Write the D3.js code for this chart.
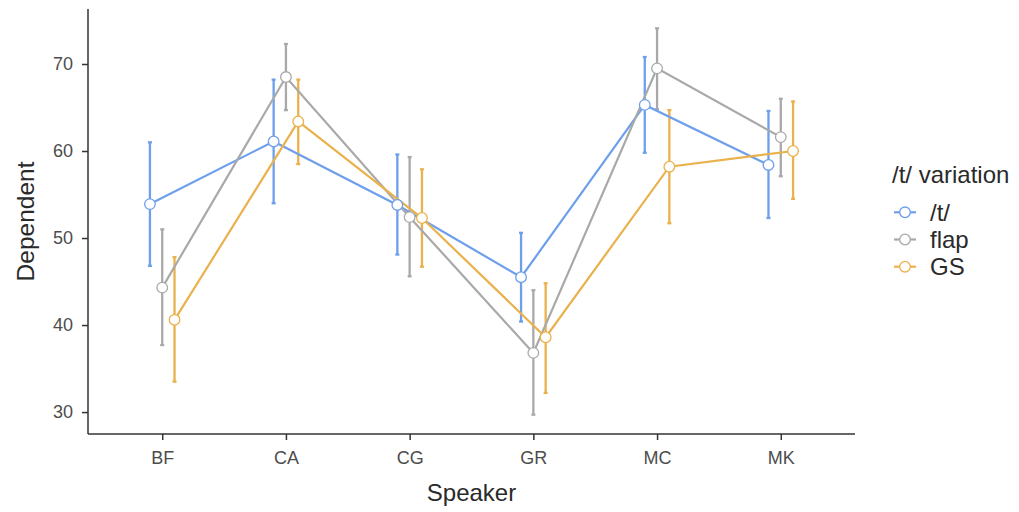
<!DOCTYPE html>
<html>
<head>
<meta charset="utf-8">
<script src="https://cdn.jsdelivr.net/npm/d3@7"></script>
<style>
  html, body { margin: 0; padding: 0; background: #fff; }
  svg { display: block; }
  text { font-family: "Liberation Sans", Arial, Helvetica, sans-serif; }
</style>
</head>
<body>
<svg id="chart" width="1019" height="512"></svg>
<script>
const speakers = ["BF", "CA", "CG", "GR", "MC", "MK"];
const variations = ["/t/", "flap", "GS"];
const colors = ["#6E9FEB", "#A9A9A9", "#EAB14C"];
const yTicks = [30, 40, 50, 60, 70];

// means per variation, in speaker order
const meanT    = [53.9, 61.1, 53.8, 45.5, 65.3, 58.4];
const meanFlap = [44.3, 68.5, 52.4, 36.8, 69.5, 61.6];
const meanGS   = [40.6, 63.4, 52.3, 38.6, 58.2, 60.0];
// lower / upper error bar ends
const lowT     = [46.8, 54.0, 48.1, 40.4, 59.8, 52.3];
const highT    = [61.0, 68.2, 59.6, 50.6, 70.8, 64.6];
const lowFlap  = [37.7, 64.7, 45.6, 29.7, 64.8, 57.1];
const highFlap = [51.0, 72.3, 59.3, 44.0, 74.1, 66.0];
const lowGS    = [33.5, 58.5, 46.7, 32.2, 51.7, 54.5];
const highGS   = [47.8, 68.2, 57.9, 44.8, 64.7, 65.7];

const seriesMeans = [meanT, meanFlap, meanGS];
const seriesLow = [lowT, lowFlap, lowGS];
const seriesHigh = [highT, highFlap, highGS];

const svg = d3.select("#chart");
const L = 88, R = 855, T = 9, B = 434;

const x = d3.scalePoint().domain(speakers).range([L, R]).padding(0.6);
const dodge = d3.scalePoint().domain(variations).range([-12.3, 12.3]);

// y domain with ggplot-like 5% expansion from data extents
const allLow = d3.min(seriesLow.flat()), allHigh = d3.max(seriesHigh.flat());
const pad = (allHigh - allLow) * 0.05;
const y = d3.scaleLinear().domain([allLow - pad, allHigh + pad]).range([B, T]);

const data = variations.map((v, i) => ({
  name: v, color: colors[i],
  pts: speakers.map((s, j) => ({ s, m: seriesMeans[i][j], lo: seriesLow[i][j], hi: seriesHigh[i][j] }))
}));
const px = (v, s) => x(s) + dodge(v);

// axes
const yAxis = d3.axisLeft(y).tickValues(yTicks).tickSize(6).tickPadding(9);
const gy = svg.append("g").attr("transform", `translate(${L},0)`).call(yAxis);
const xAxis = d3.axisBottom(x).tickSize(6).tickPadding(11);
const gx = svg.append("g").attr("transform", `translate(0,${B})`).call(xAxis);
[gy, gx].forEach(g => {
  g.select(".domain").attr("stroke", "#333").attr("stroke-width", 1.5);
  g.selectAll(".tick line").attr("stroke", "#333").attr("stroke-width", 1.5);
  g.selectAll(".tick text").attr("fill", "#4D4D4D").style("font-size", "18px")
    .style("font-family", '"Liberation Sans", Arial, sans-serif');
});
gy.select(".domain").attr("d", `M0,${T}V${B}`);
gx.select(".domain").attr("d", `M${L},0H${R}`);

// series
data.forEach(d => {
  const g = svg.append("g");
  // error bars
  g.selectAll("line.eb").data(d.pts).join("line")
    .attr("x1", p => px(d.name, p.s)).attr("x2", p => px(d.name, p.s))
    .attr("y1", p => y(p.lo)).attr("y2", p => y(p.hi))
    .attr("stroke", d.color).attr("stroke-width", 2.3);
  ["lo", "hi"].forEach(k => {
    g.selectAll("line.cap" + k).data(d.pts).join("line")
      .attr("x1", p => px(d.name, p.s) - 2).attr("x2", p => px(d.name, p.s) + 2)
      .attr("y1", p => y(p[k])).attr("y2", p => y(p[k]))
      .attr("stroke", d.color).attr("stroke-width", 2.3);
  });
});
data.forEach(d => {
  svg.append("path").datum(d.pts)
    .attr("d", d3.line().x(p => px(d.name, p.s)).y(p => y(p.m)))
    .attr("fill", "none").attr("stroke", d.color).attr("stroke-width", 2.2);
});
data.forEach(d => {
  svg.append("g").selectAll("circle").data(d.pts).join("circle")
    .attr("cx", p => px(d.name, p.s)).attr("cy", p => y(p.m)).attr("r", 5.3)
    .attr("fill", "#fff").attr("stroke", d.color).attr("stroke-width", 1.3);
});

// axis titles
svg.append("text").attr("x", (L + R) / 2).attr("y", 501).attr("text-anchor", "middle")
  .attr("fill", "#2a2a2a").style("font-size", "24px").text("Speaker");
svg.append("text").attr("transform", `translate(33.5,${(T + B) / 2}) rotate(-90)`)
  .attr("text-anchor", "middle").attr("fill", "#2a2a2a").style("font-size", "24.5px").text("Dependent");

// legend
const lg = svg.append("g");
lg.append("text").attr("x", 892).attr("y", 183).attr("fill", "#2a2a2a").style("font-size", "24px").text("/t/ variation");
data.forEach((d, i) => {
  const cy = 212.3 + i * 27.2;
  lg.append("line").attr("x1", 894).attr("x2", 916).attr("y1", cy).attr("y2", cy)
    .attr("stroke", d.color).attr("stroke-width", 2.2);
  lg.append("circle").attr("cx", 905).attr("cy", cy).attr("r", 5.3)
    .attr("fill", "#fff").attr("stroke", d.color).attr("stroke-width", 1.3);
  lg.append("text").attr("x", 930).attr("y", cy + 8.5).attr("fill", "#2a2a2a")
    .style("font-size", "24px").text(d.name);
});
</script>
</body>
</html>
